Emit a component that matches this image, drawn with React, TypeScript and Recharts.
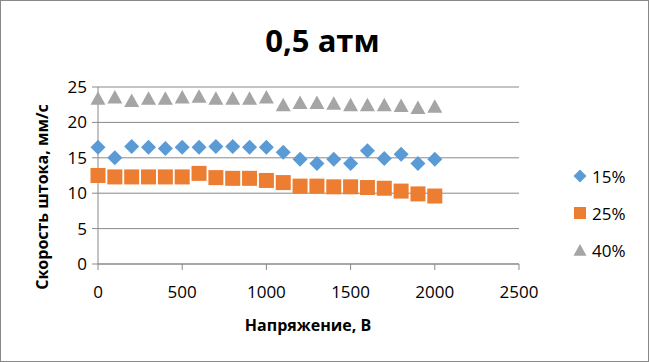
import React from 'react'
import { ScatterChart, Scatter, XAxis, YAxis, CartesianGrid, Label } from 'recharts'

const voltages = [0, 100, 200, 300, 400, 500, 600, 700, 800, 900, 1000, 1100, 1200, 1300, 1400, 1500, 1600, 1700, 1800, 1900, 2000]
const speed15 = [16.5, 15.0, 16.6, 16.5, 16.3, 16.5, 16.5, 16.6, 16.6, 16.5, 16.5, 15.8, 14.8, 14.2, 14.8, 14.2, 16.0, 14.9, 15.5, 14.2, 14.8]
const speed25 = [12.5, 12.3, 12.3, 12.3, 12.3, 12.3, 12.8, 12.2, 12.1, 12.1, 11.8, 11.5, 11.0, 11.0, 10.9, 10.9, 10.8, 10.7, 10.3, 9.9, 9.6]
const speed40 = [23.4, 23.6, 23.1, 23.4, 23.4, 23.6, 23.7, 23.4, 23.4, 23.4, 23.6, 22.5, 22.8, 22.8, 22.7, 22.5, 22.5, 22.5, 22.4, 22.1, 22.3]

const xTicks = [0, 500, 1000, 1500, 2000, 2500]
const yTicks = [0, 5, 10, 15, 20, 25]

const FONT = '"Open Sans", sans-serif'
const AXIS_GRAY = '#898989'

type Mark = 'diamond' | 'square' | 'triangle'

function marker(kind: Mark, cx: number, cy: number, r: number, color: string) {
  if (kind === 'diamond') {
    return <path d={`M${cx} ${cy - r}L${cx + r} ${cy}L${cx} ${cy + r}L${cx - r} ${cy}Z`} fill={color} />
  }
  if (kind === 'square') {
    return <rect x={cx - r} y={cy - r} width={r * 2} height={r * 2} fill={color} />
  }
  return <path d={`M${cx} ${cy - r * 0.93}L${cx + r} ${cy + r * 0.87}L${cx - r} ${cy + r * 0.87}Z`} fill={color} />
}

const series: { name: string; values: number[]; color: string; kind: Mark }[] = [
  { name: '15%', values: speed15, color: '#5B9BD5', kind: 'diamond' },
  { name: '25%', values: speed25, color: '#ED7D31', kind: 'square' },
  { name: '40%', values: speed40, color: '#A5A5A5', kind: 'triangle' },
]

export default function App() {
  return (
    <div style={{ position: 'absolute', left: 0, top: 0, width: 650, height: 362, fontFamily: FONT, background: '#fff' }}>
      <div style={{ position: 'absolute', left: 0, top: 0, width: 647, height: 360, border: `1px solid ${AXIS_GRAY}` }} />
      <div style={{ position: 'absolute', left: 0, width: 645, top: 20, textAlign: 'center', fontSize: 31, fontWeight: 700, lineHeight: '40px', color: '#000' }}>
        0,5 атм
      </div>
      <ScatterChart width={650} height={362} margin={{ top: 87, right: 131, bottom: 0, left: 0 }}>
        <CartesianGrid vertical={false} stroke={AXIS_GRAY} />
        <XAxis
          type="number"
          dataKey="x"
          domain={[0, 2500]}
          ticks={xTicks}
          height={98}
          tickSize={6}
          tickMargin={16}
          stroke={AXIS_GRAY}
          tick={{ fill: '#000', fontSize: 17, fontFamily: FONT }}
        >
          <Label
            content={() => (
              <text x={308} y={325} textAnchor="middle" dominantBaseline="central" fontSize={16} fontWeight={700} fontFamily={FONT} fill="#000">
                Напряжение, В
              </text>
            )}
          />
        </XAxis>
        <YAxis
          type="number"
          dataKey="y"
          domain={[0, 25]}
          ticks={yTicks}
          width={98}
          tickSize={6}
          tickMargin={5}
          stroke={AXIS_GRAY}
          tick={{ fill: '#000', fontSize: 17, fontFamily: FONT }}
        >
          <Label
            content={() => (
              <text x={42} y={197} transform="rotate(-90 42 197)" textAnchor="middle" dominantBaseline="central" fontSize={16} fontWeight={700} fontFamily={FONT} fill="#000">
                Скорость штока, мм/с
              </text>
            )}
          />
        </YAxis>
        {series.map((s) => (
          <Scatter
            key={s.name}
            name={s.name}
            data={voltages.map((x, i) => ({ x, y: s.values[i] }))}
            isAnimationActive={false}
            shape={(p: any) => marker(s.kind, p.cx, p.cy, 7.5, s.color)}
          />
        ))}
      </ScatterChart>
      <div style={{ position: 'absolute', left: 572, top: 164 }}>
        {series.map((s) => (
          <div key={s.name} style={{ display: 'flex', alignItems: 'center', height: 24, marginBottom: 13 }}>
            <svg width={16} height={16} style={{ marginRight: 4 }}>
              {marker(s.kind, 8, 8, s.kind === 'square' ? 6 : 6.5, s.color)}
            </svg>
            <span style={{ fontSize: 17, color: '#000' }}>{s.name}</span>
          </div>
        ))}
      </div>
    </div>
  )
}
